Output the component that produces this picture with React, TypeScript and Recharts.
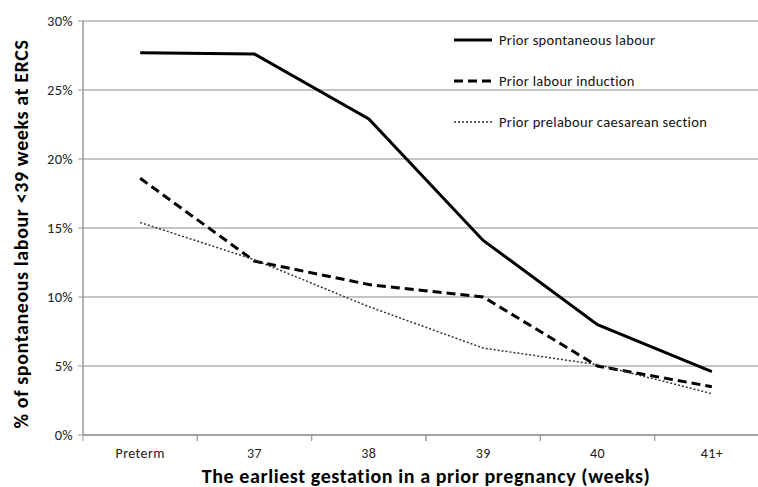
import React from 'react';
import { ComposedChart, Line, XAxis, YAxis, CartesianGrid, Legend } from 'recharts';

const gestations = ['Preterm', '37', '38', '39', '40', '41+'];
const spontaneous = [27.7, 27.6, 22.9, 14.1, 8.0, 4.6];
const induction = [18.6, 12.6, 10.9, 10.0, 5.0, 3.5];
const caesarean = [15.4, 12.7, 9.3, 6.3, 5.1, 3.0];
const yTicks = [0, 5, 10, 15, 20, 25, 30];

const seriesInfo = [
  { key: 'spontaneous', name: 'Prior spontaneous labour', width: 3, dash: undefined, color: '#000' },
  { key: 'induction', name: 'Prior labour induction', width: 3, dash: '9 5', color: '#000' },
  { key: 'caesarean', name: 'Prior prelabour caesarean section', width: 1.5, dash: '2 2', color: '#333' },
];

const data = gestations.map((g, i) => ({
  name: g,
  spontaneous: spontaneous[i],
  induction: induction[i],
  caesarean: caesarean[i],
}));

const FONT = 'Carlito, Calibri, Lato, "Open Sans", sans-serif';
const CHART_W = 769;
const CHART_H = 487;
const AXIS_W = 83;
const BAND = (CHART_W - AXIS_W) / gestations.length;

// Excel puts the x tick marks between categories, so draw them from the tick itself
const CategoryTick = (props: any) => {
  const { x, y, payload } = props;
  return (
    <g>
      <line x1={x - BAND / 2} x2={x - BAND / 2} y1={y} y2={y + 6} stroke="#999" />
      <line x1={x + BAND / 2} x2={x + BAND / 2} y1={y} y2={y + 6} stroke="#999" />
      <text x={x} y={y + 23} textAnchor="middle" fontSize={14} fill="#222" fontFamily={FONT} letterSpacing={0.4}>
        {payload.value}
      </text>
    </g>
  );
};

const LegendBox = () => (
  <div style={{ fontFamily: FONT, fontSize: 14.5, color: '#111', letterSpacing: 0.3 }}>
    {seriesInfo.map((s) => (
      <div key={s.key} style={{ display: 'flex', alignItems: 'center', height: 41 }}>
        <svg width={40} height={10} style={{ marginRight: 6 }}>
          <line x1={1} x2={39} y1={5} y2={5} stroke={s.color} strokeWidth={s.width} strokeDasharray={s.dash} />
        </svg>
        <span>{s.name}</span>
      </div>
    ))}
  </div>
);

const axisTitle = { fontFamily: FONT, fontSize: 20, fontWeight: 700, fill: '#000', letterSpacing: 0.6 };

export default function App() {
  return (
    <div style={{ position: 'fixed', left: 0, top: 0, width: 758, height: 487, overflow: 'hidden', background: '#fff' }}>
      <ComposedChart width={CHART_W} height={CHART_H} data={data} margin={{ top: 21, right: 0, bottom: 0, left: 0 }}>
        <CartesianGrid horizontal vertical={false} stroke="#b0b0b0" strokeWidth={1.5} />
        <XAxis
          dataKey="name"
          height={52}
          padding={{ left: BAND / 2, right: BAND / 2 }}
          axisLine={{ stroke: '#999', strokeWidth: 1.5 }}
          tickLine={false}
          tickSize={0}
          tickMargin={0}
          tick={<CategoryTick />}
          interval={0}
          label={{ value: 'The earliest gestation in a prior pregnancy (weeks)', position: 'insideBottom', offset: 4, style: axisTitle }}
        />
        <YAxis
          width={AXIS_W}
          domain={[0, 30]}
          ticks={yTicks}
          interval={0}
          tickFormatter={(v) => `${v}%`}
          axisLine={{ stroke: '#999', strokeWidth: 1.5 }}
          tickLine={{ stroke: '#999' }}
          tickSize={5}
          tickMargin={5}
          tick={{ fontSize: 14.5, fill: '#222', fontFamily: FONT, letterSpacing: 0.3 }}
          label={{ value: '% of spontaneous labour <39 weeks at ERCS', angle: -90, position: 'insideLeft', offset: 21, dy: 6, style: { ...axisTitle, textAnchor: 'middle' } }}
        />
        <Legend content={<LegendBox />} layout="vertical" verticalAlign="middle" align="center" wrapperStyle={{ left: 453, top: 19, width: 300 }} />
        {seriesInfo.map((s) => (
          <Line
            key={s.key}
            dataKey={s.key}
            name={s.name}
            stroke={s.color}
            strokeWidth={s.width}
            strokeDasharray={s.dash}
            dot={false}
            activeDot={false}
            type="linear"
            isAnimationActive={false}
          />
        ))}
      </ComposedChart>
    </div>
  );
}
